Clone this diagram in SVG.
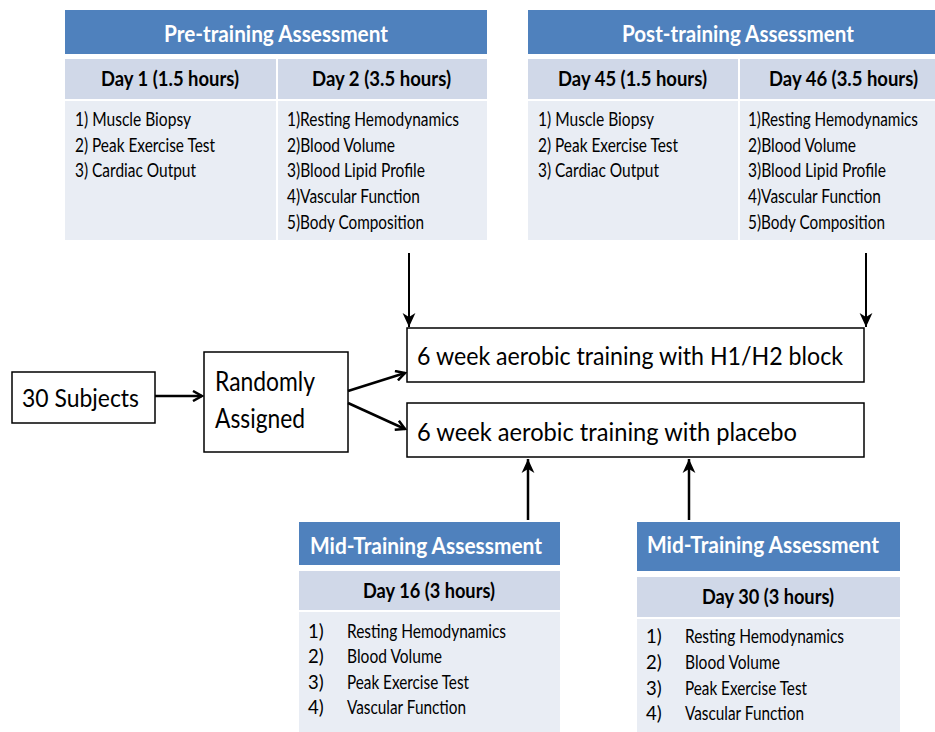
<svg xmlns="http://www.w3.org/2000/svg" width="935" height="732" viewBox="0 0 935 732">
<defs>
<style>
text{font-family:Lato,"Open Sans","Liberation Sans",sans-serif;fill:#000}
.hd{fill:#4f81bd}
.sub{fill:#d0d8e8}
.body{fill:#e9edf4}
.ht{fill:#fff;font-weight:bold;font-size:23px}
.dt{font-weight:bold;font-size:20.5px}
.it{font-size:18.5px}
.box{fill:#fff;stroke:#000;stroke-width:1.5}
.bt{font-size:25.5px}
.bt2{font-size:27px}
.ln{stroke:#000;stroke-width:2;fill:none}
.lnb{stroke:#000;stroke-width:2.5;fill:none}
</style>
<marker id="v" viewBox="0 0 12 12" refX="10" refY="6" markerWidth="12" markerHeight="12" markerUnits="userSpaceOnUse" orient="auto">
<path d="M1,1 L10,6 L1,11" fill="none" stroke="#000" stroke-width="2.5"/>
</marker>
<marker id="s" viewBox="0 0 12 12" refX="12" refY="6" markerWidth="14" markerHeight="14" markerUnits="userSpaceOnUse" orient="auto">
<path d="M0,0.5 L12,6 L0,11.5 L3.5,6 z" fill="#000"/>
</marker>
</defs>

<g id="pre">
<rect class="hd" x="65" y="10" width="422" height="44"/>
<rect class="sub" x="65" y="59" width="211" height="40"/>
<rect class="sub" x="278" y="59" width="209" height="40"/>
<rect class="body" x="65" y="101" width="211" height="139"/>
<rect class="body" x="278" y="101" width="209" height="139"/>
<text class="ht" x="164" y="42" textLength="224" lengthAdjust="spacingAndGlyphs">Pre-training Assessment</text>
<text class="dt" x="101" y="86" textLength="138" lengthAdjust="spacingAndGlyphs">Day 1 (1.5 hours)</text>
<text class="dt" x="312" y="86" textLength="139" lengthAdjust="spacingAndGlyphs">Day 2 (3.5 hours)</text>
<text class="it" x="75" y="126" textLength="116" lengthAdjust="spacingAndGlyphs">1) Muscle Biopsy</text>
<text class="it" x="75" y="152" textLength="140" lengthAdjust="spacingAndGlyphs">2) Peak Exercise Test</text>
<text class="it" x="75" y="177" textLength="121" lengthAdjust="spacingAndGlyphs">3) Cardiac Output</text>
<text class="it" x="287" y="126" textLength="172" lengthAdjust="spacingAndGlyphs">1)Resting Hemodynamics</text>
<text class="it" x="287" y="152" textLength="108" lengthAdjust="spacingAndGlyphs">2)Blood Volume</text>
<text class="it" x="287" y="177" textLength="138" lengthAdjust="spacingAndGlyphs">3)Blood Lipid Profile</text>
<text class="it" x="287" y="203" textLength="133" lengthAdjust="spacingAndGlyphs">4)Vascular Function</text>
<text class="it" x="287" y="229" textLength="137" lengthAdjust="spacingAndGlyphs">5)Body Composition</text>
</g>

<g id="post">
<rect class="hd" x="528" y="10" width="407" height="44"/>
<rect class="sub" x="528" y="59" width="210" height="40"/>
<rect class="sub" x="740" y="59" width="195" height="40"/>
<rect class="body" x="528" y="101" width="210" height="139"/>
<rect class="body" x="740" y="101" width="195" height="139"/>
<text class="ht" x="622" y="42" textLength="232" lengthAdjust="spacingAndGlyphs">Post-training Assessment</text>
<text class="dt" x="558" y="86" textLength="149" lengthAdjust="spacingAndGlyphs">Day 45 (1.5 hours)</text>
<text class="dt" x="769" y="86" textLength="149" lengthAdjust="spacingAndGlyphs">Day 46 (3.5 hours)</text>
<text class="it" x="538" y="126" textLength="116" lengthAdjust="spacingAndGlyphs">1) Muscle Biopsy</text>
<text class="it" x="538" y="152" textLength="140" lengthAdjust="spacingAndGlyphs">2) Peak Exercise Test</text>
<text class="it" x="538" y="177" textLength="121" lengthAdjust="spacingAndGlyphs">3) Cardiac Output</text>
<text class="it" x="748" y="126" textLength="170" lengthAdjust="spacingAndGlyphs">1)Resting Hemodynamics</text>
<text class="it" x="748" y="152" textLength="108" lengthAdjust="spacingAndGlyphs">2)Blood Volume</text>
<text class="it" x="748" y="177" textLength="138" lengthAdjust="spacingAndGlyphs">3)Blood Lipid Profile</text>
<text class="it" x="748" y="203" textLength="133" lengthAdjust="spacingAndGlyphs">4)Vascular Function</text>
<text class="it" x="748" y="229" textLength="137" lengthAdjust="spacingAndGlyphs">5)Body Composition</text>
</g>

<g id="subjects">
<rect class="box" x="12" y="372" width="143" height="51"/>
<text class="bt" x="22" y="407" textLength="117" lengthAdjust="spacingAndGlyphs">30 Subjects</text>
</g>

<g id="random">
<rect class="box" x="204" y="352" width="144" height="100"/>
<text class="bt2" x="215" y="391" textLength="100" lengthAdjust="spacingAndGlyphs">Randomly</text>
<text class="bt2" x="215" y="428" textLength="90" lengthAdjust="spacingAndGlyphs">Assigned</text>
</g>

<g id="h1h2">
<rect class="box" x="407" y="328" width="457" height="54"/>
<text class="bt" x="417" y="365" textLength="426" lengthAdjust="spacingAndGlyphs">6 week aerobic training with H1/H2 block</text>
</g>

<g id="placebo">
<rect class="box" x="407" y="403" width="457" height="54"/>
<text class="bt" x="417" y="441" textLength="380" lengthAdjust="spacingAndGlyphs">6 week aerobic training with placebo</text>
</g>

<g id="mid16">
<rect class="hd" x="299" y="522" width="261" height="43"/>
<rect class="sub" x="299" y="571" width="261" height="39"/>
<rect class="body" x="299" y="612" width="261" height="120"/>
<text class="ht" x="310" y="554" textLength="232" lengthAdjust="spacingAndGlyphs">Mid-Training Assessment</text>
<text class="dt" x="363" y="598" textLength="132" lengthAdjust="spacingAndGlyphs">Day 16 (3 hours)</text>
<text class="it" x="308" y="638">1)</text>
<text class="it" x="308" y="663">2)</text>
<text class="it" x="308" y="689">3)</text>
<text class="it" x="308" y="714">4)</text>
<text class="it" x="347" y="638" textLength="159" lengthAdjust="spacingAndGlyphs">Resting Hemodynamics</text>
<text class="it" x="347" y="663" textLength="95" lengthAdjust="spacingAndGlyphs">Blood Volume</text>
<text class="it" x="347" y="689" textLength="122" lengthAdjust="spacingAndGlyphs">Peak Exercise Test</text>
<text class="it" x="347" y="714" textLength="119" lengthAdjust="spacingAndGlyphs">Vascular Function</text>
</g>

<g id="mid30">
<rect class="hd" x="637" y="522" width="263" height="49"/>
<rect class="sub" x="637" y="577" width="263" height="40"/>
<rect class="body" x="637" y="619" width="263" height="113"/>
<text class="ht" x="647" y="553" textLength="232" lengthAdjust="spacingAndGlyphs">Mid-Training Assessment</text>
<text class="dt" x="702" y="604" textLength="132" lengthAdjust="spacingAndGlyphs">Day 30 (3 hours)</text>
<text class="it" x="646" y="643">1)</text>
<text class="it" x="646" y="669">2)</text>
<text class="it" x="646" y="695">3)</text>
<text class="it" x="646" y="720">4)</text>
<text class="it" x="685" y="643" textLength="159" lengthAdjust="spacingAndGlyphs">Resting Hemodynamics</text>
<text class="it" x="685" y="669" textLength="95" lengthAdjust="spacingAndGlyphs">Blood Volume</text>
<text class="it" x="685" y="695" textLength="122" lengthAdjust="spacingAndGlyphs">Peak Exercise Test</text>
<text class="it" x="685" y="720" textLength="119" lengthAdjust="spacingAndGlyphs">Vascular Function</text>
</g>

<g id="connectors">
<line class="lnb" x1="155" y1="396" x2="202" y2="396" marker-end="url(#v)"/>
<line class="lnb" x1="348" y1="391" x2="405" y2="373" marker-end="url(#v)"/>
<line class="lnb" x1="348" y1="403" x2="405" y2="429" marker-end="url(#v)"/>
<line class="ln" x1="409" y1="253" x2="409" y2="327" marker-end="url(#s)"/>
<line class="ln" x1="866" y1="253" x2="866" y2="327" marker-end="url(#s)"/>
<line class="lnb" x1="528" y1="520" x2="528" y2="459" marker-end="url(#s)"/>
<line class="lnb" x1="689" y1="520" x2="689" y2="459" marker-end="url(#s)"/>
</g>
</svg>
